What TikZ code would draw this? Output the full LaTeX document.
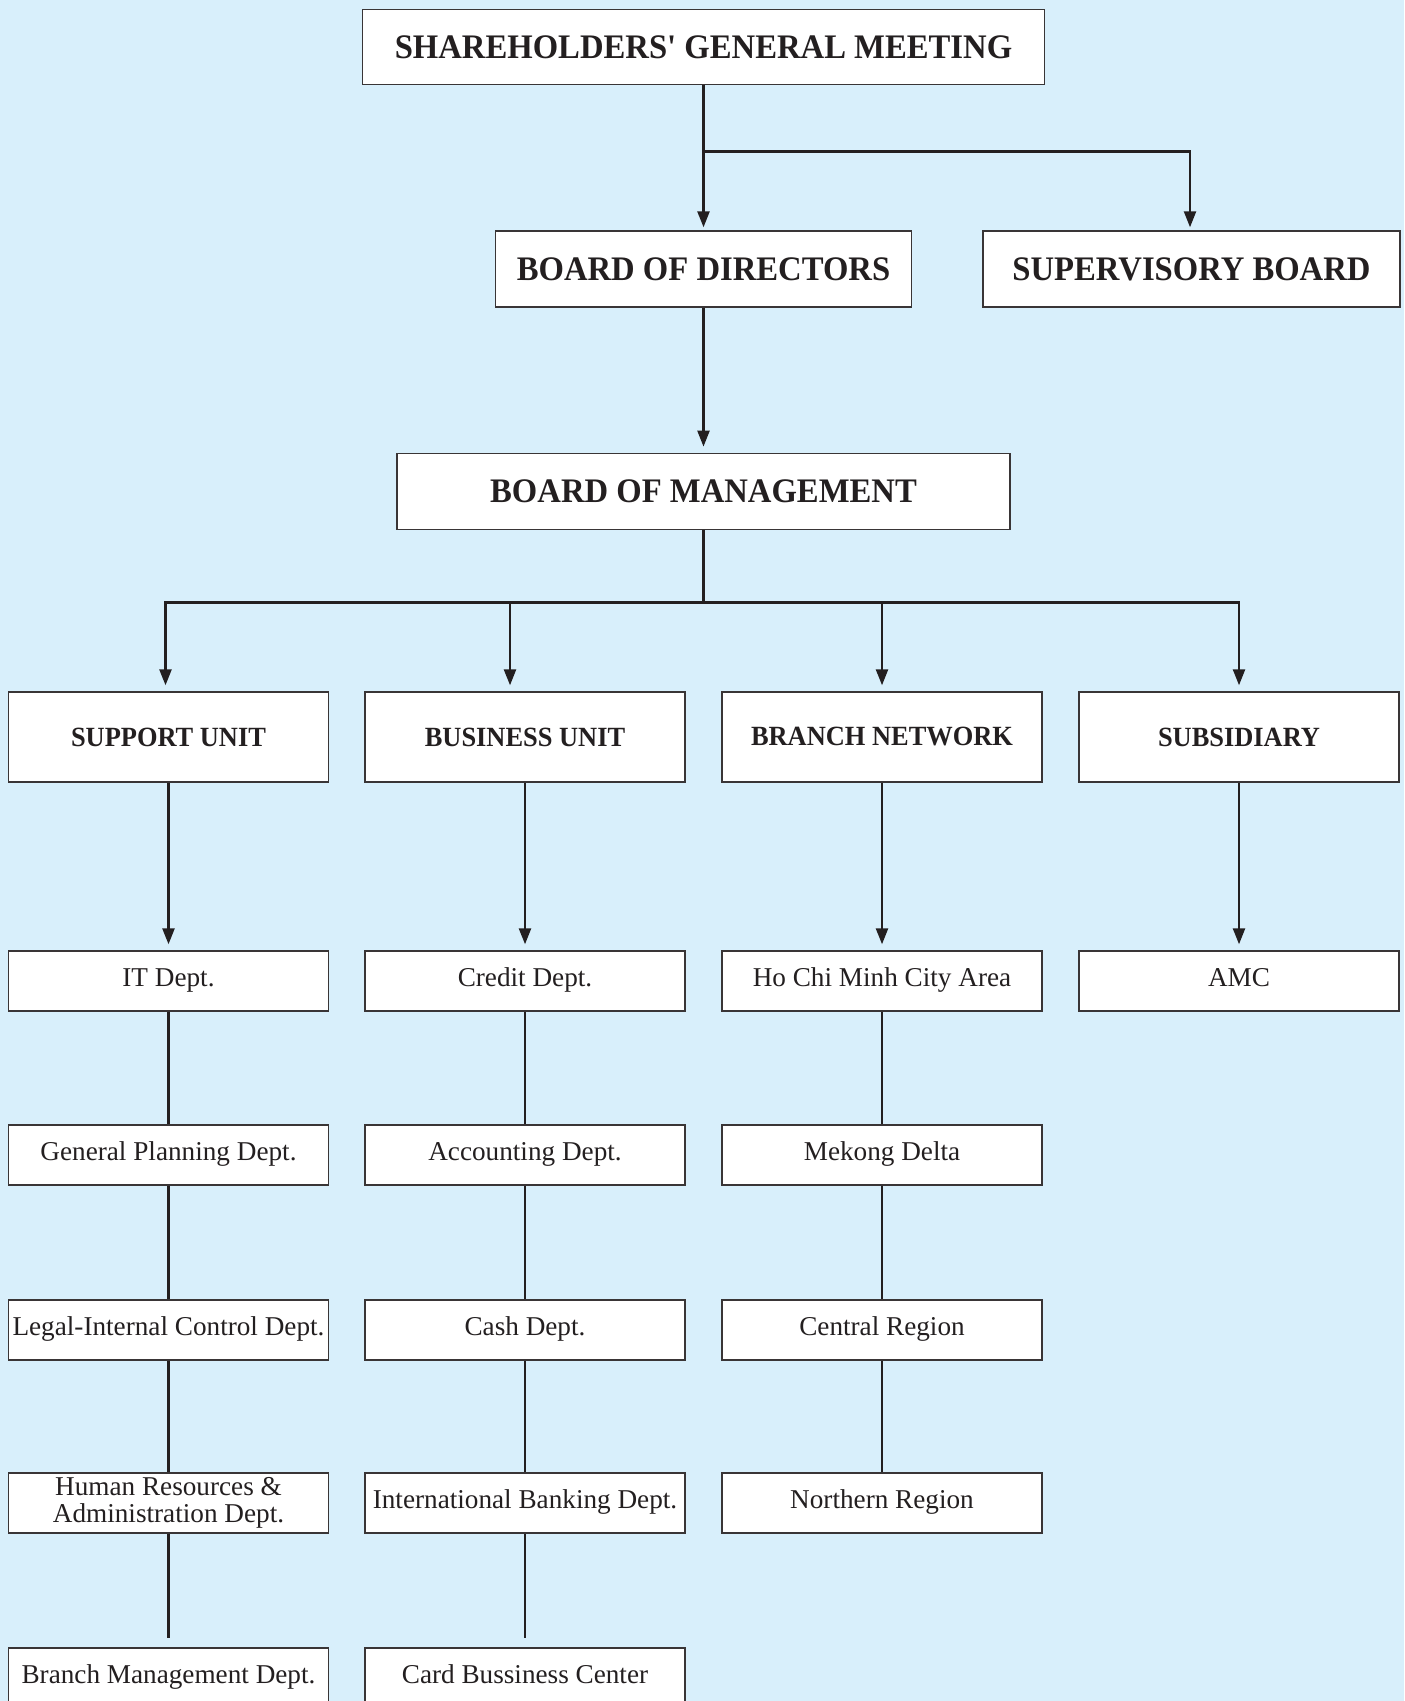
\documentclass[tikz,border=0pt]{standalone}
\usepackage{fontspec}
\setmainfont{Liberation Serif}
\newfontfamily\hdfont[FakeStretch=0.95]{Liberation Serif}
\usetikzlibrary{arrows.meta}
\definecolor{bgblue}{RGB}{216,239,251}
\definecolor{ink}{RGB}{35,31,32}
\begin{document}
\begin{tikzpicture}[x=0.5pt,y=-0.5pt,
  box/.style={draw=ink!90, fill=white, line width=0.7pt, inner sep=0pt, text=ink},
  big/.style={box, font=\hdfont\bfseries\fontsize{17.2}{18}\selectfont, minimum height=37.5pt},
  unitbox/.style={box, font=\hdfont\bfseries\fontsize{13.9}{15}\selectfont, minimum width=160pt, minimum height=45pt},
  deptbase/.style={box, font=\fontsize{13.6}{13.6}\selectfont, minimum width=160pt, minimum height=30pt, align=center},
  dept/.style={deptbase, text height=0.7em, text depth=0.2em},
  conn/.style={draw=ink, line width=1.2pt},
  arr/.style={conn, -{Triangle[length=8pt,width=6pt]}, shorten >=3pt}]
\path[use as bounding box] (0,0) rectangle (1404,1701);
\fill[bgblue] (0,0) rectangle (1404,1701);
\clip (0,0) rectangle (1404,1701);

% top levels
\node[big, minimum width=340.75pt] (sgm) at (703.5,46.8) {SHAREHOLDERS' GENERAL MEETING};
\node[big, minimum width=208pt, minimum height=38pt] (bod) at (703.5,269) {BOARD OF DIRECTORS};
\node[big, minimum width=208.5pt, minimum height=38pt] (sb) at (1191.5,269) {SUPERVISORY BOARD};
\node[big, minimum width=306.5pt, minimum height=38pt] (bom) at (703.5,491.3) {BOARD OF MANAGEMENT};

% units
\node[unitbox] (su) at (168.5,737) {SUPPORT UNIT};
\node[unitbox] (bu) at (525,737) {BUSINESS UNIT};
\node[unitbox] (bn) at (882,737) {BRANCH NETWORK};
\node[unitbox] (sd) at (1239,737) {SUBSIDIARY};

% support column
\node[dept] (it) at (168.5,981) {IT Dept.};
\node[dept] (gp) at (168.5,1155) {General Planning Dept.};
\node[dept] (lc) at (168.5,1330) {Legal-Internal Control Dept.};
\node[deptbase] (hr) at (168.5,1503) {Human Resources \&\\Administration Dept.};
\node[dept] (bm) at (168.5,1678) {Branch Management Dept.};

% business column
\node[dept] (cr) at (525,981) {Credit Dept.};
\node[dept] (ac) at (525,1155) {Accounting Dept.};
\node[dept] (ca) at (525,1330) {Cash Dept.};
\node[dept] (ib) at (525,1503) {International Banking Dept.};
\node[dept] (cb) at (525,1678) {Card Bussiness Center};

% branch column
\node[dept] (hcm) at (882,981) {Ho Chi Minh City Area};
\node[dept] (md) at (882,1155) {Mekong Delta};
\node[dept] (cen) at (882,1330) {Central Region};
\node[dept] (nor) at (882,1503) {Northern Region};

% subsidiary
\node[dept] (amc) at (1239,981) {AMC};

% connectors top
\coordinate (j1) at (703.5,151.7);
\draw[arr, shorten >=1.5pt] (sgm) -- (bod);
\draw[arr, shorten >=1.5pt] (j1) -| ([xshift=-0.75pt]sb.north);
\draw[arr] (bod) -- (bom);

\coordinate (j2) at (703.5,602.3);
\draw[conn] (bom.south) -- (j2);
\draw[arr] (j2) -| ([xshift=-1.5pt]su.north);
\draw[arr] (j2) -| ([xshift=-7.5pt]bu.north);
\draw[arr] (j2) -| (bn.north);
\draw[arr] (j2) -| (sd.north);

% unit to first dept
\draw[arr] (su) -- (it);
\draw[arr] (bu) -- (cr);
\draw[arr] (bn) -- (hcm);
\draw[arr] (sd) -- (amc);

% chains
\draw[conn] (it) -- (gp);
\draw[conn] (gp) -- (lc);
\draw[conn] (lc) -- (hr);
\draw[conn, shorten >=4.5pt] (hr) -- (bm);
\draw[conn] (cr) -- (ac);
\draw[conn] (ac) -- (ca);
\draw[conn] (ca) -- (ib);
\draw[conn, shorten >=4.5pt] (ib) -- (cb);
\draw[conn] (hcm) -- (md);
\draw[conn] (md) -- (cen);
\draw[conn] (cen) -- (nor);
\end{tikzpicture}
\end{document}
